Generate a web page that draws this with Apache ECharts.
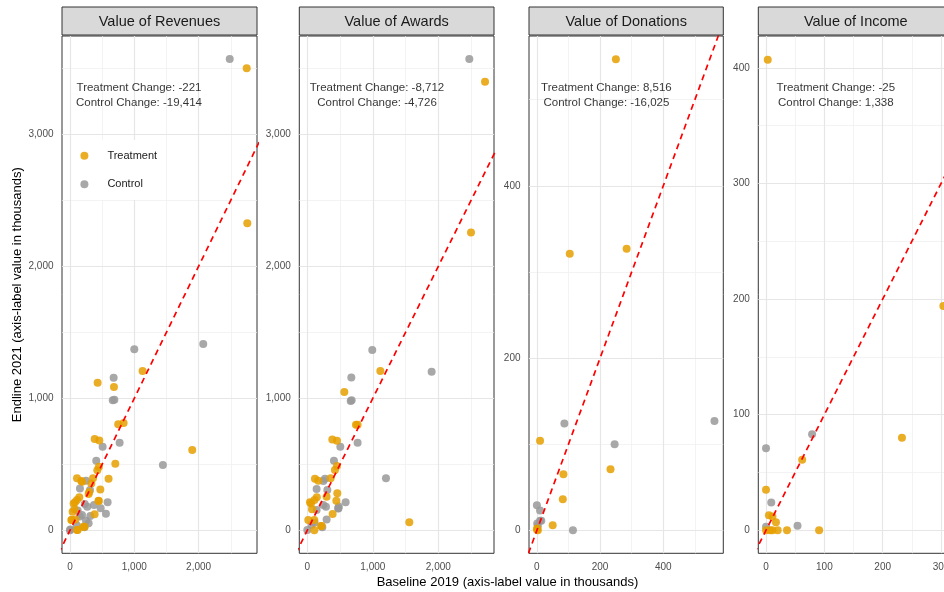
<!DOCTYPE html>
<html><head><meta charset="utf-8">
<script src="https://cdn.jsdelivr.net/npm/echarts@6/dist/echarts.min.js"></script>
<style>html,body{margin:0;padding:0;background:#fff}#c{width:944px;height:592px}</style>
</head><body><div id="c"></div>
<script>
// ---------- data (values in thousands) ----------
const panelTitles = ['Value of Revenues', 'Value of Awards', 'Value of Donations', 'Value of Income'];
const seriesNames = ['Treatment', 'Control'];

const revenuesTreatment = [
  [2748,3500],[2757,2326],[1129,1207],[430,1119],[684,1086],[834,813],[750,803],
  [384,692],[456,680],[1901,609],[705,505],[450,482],[425,456],[600,390],
  [109,394],[187,368],[358,394],[332,355],[472,310],[300,290],[290,275],
  [145,250],[109,230],[446,222],[57,204],[78,212],[72,159],[41,141],[383,121],
  [31,78],[83,83],[21,78],[228,28],[207,28],[109,2],[119,3],[176,374],[445,225]
];
const revenuesControl = [
  [2484,3570],[2072,1411],[1000,1371],[679,1156],[665,985],[690,990],[772,664],
  [508,634],[1445,495],[409,528],[155,316],[249,376],[311,305],[585,212],
  [559,126],[477,167],[269,179],[290,53],[223,23],[0,0],[104,38],[373,192],
  [155,104],[187,116],[249,73],[5,7],[316,109],[230,200],[120,150]
];
const awardsTreatment = [
  [2713,3399],[2499,2257],[1115,1207],[565,1048],[743,800],[768,800],
  [382,689],[453,679],[453,487],[422,457],[1557,61],[117,391],[168,376],
  [356,394],[458,280],[443,225],[295,255],[41,212],[387,124],[15,78],[107,78],
  [209,33],[107,0],[109,230],[145,250],[57,204],[72,159],[219,32]
];
const awardsControl = [
  [2473,3570],[1898,1202],[992,1366],[672,1157],[662,980],[677,985],[768,664],
  [504,634],[407,528],[1201,394],[585,212],[473,167],[480,180],[245,373],
  [270,391],[142,313],[306,305],[285,178],[142,154],[295,83],[229,23],[0,3],
  [66,40],[244,192],[110,60],[474,166]
];
const donationsTreatment = [[250,547],[104,321],[284,327],[10,104],[233,71],[84,65],[82,36],[50,6],[1,2],[3,0],[0,1]];
const donationsControl = [[562,127],[87,124],[246,100],[0,29],[10,23],[10,11],[1,8],[14,11],[114,0],[3,5]];
const incomeTreatment = [[3,407],[304,194],[233,80],[62,61],[0,35],[5,13],[11,12],[17,7],[91,0],[36,0],[20,0],[7,0],[0,0],[11,0]];
const incomeControl = [[79,83],[0,71],[9,24],[54,4],[0,3]];

const annotationTexts = [
  'Treatment Change: -221\nControl Change: -19,414',
  'Treatment Change: -8,712\nControl Change: -4,726',
  'Treatment Change: 8,516\nControl Change: -16,025',
  'Treatment Change: -25\nControl Change: 1,338'
];
const annotationX = [1073, 1064, 220, 119.6];
const annotationY = [3294, 3294, 505, 376];

// tick values
const xMajorTicks = [[0,1000,2000],[0,1000,2000],[0,200,400],[0,100,200,300]];
const xMinorTicks = [[500,1500,2500],[500,1500,2500],[100,300,500],[50,150,250]];
const yMajorTicks = [[0,1000,2000,3000],[0,1000,2000,3000],[0,200,400],[0,100,200,300,400]];
const yMinorTicks = [[500,1500,2500,3500],[500,1500,2500,3500],[100,300,500],[50,150,250,350]];

// axis ranges (scale limits)
const xMinVals = [-124, -122, -25, -13.2];
const xMaxVals = [2908, 2850, 590, 321];
const yMinVals = [-174, -174, -26.7, -19.9];
const yMaxVals = [3745, 3745, 574, 427.6];

const treatmentData = [revenuesTreatment, awardsTreatment, donationsTreatment, incomeTreatment];
const controlData = [revenuesControl, awardsControl, donationsControl, incomeControl];

// ---------- layout / style ----------
const FONT = 'Liberation Sans, Arial, sans-serif';
const gridLefts = [62, 299.3, 529, 758.3];
const gridWidths = [195, 194.7, 194.3, 195];
const gridTop = 36, gridHeight = 517.3;
const fmt = v => Number(v).toLocaleString('en-US');

function makeAxis(i, min, max, ticks) {
  return {
    type: 'value', gridIndex: i, min: min, max: max,
    splitLine: {show: false}, axisLine: {show: false},
    axisTick: {show: true, length: 4.5, customValues: ticks, lineStyle: {color: '#333333', width: 1}},
    axisLabel: {customValues: ticks, fontSize: 10, color: '#4d4d4d', fontFamily: FONT, margin: 8.5, formatter: fmt}
  };
}

const grids = [], xAxes = [], yAxes = [], series = [], graphics = [];
for (let i = 0; i < 4; i++) {
  grids.push({left: gridLefts[i], top: gridTop, width: gridWidths[i], height: gridHeight,
    show: true, borderColor: '#333333', borderWidth: 1, backgroundColor: 'transparent',
    containLabel: false, outerBoundsMode: 'none'});
  xAxes.push(makeAxis(i, xMinVals[i], xMaxVals[i], xMajorTicks[i]));
  yAxes.push(makeAxis(i, yMinVals[i], yMaxVals[i], yMajorTicks[i]));

  const major = {color: '#e6e6e6', width: 1.2, type: 'solid'};
  const minor = {color: '#eeeeee', width: 0.7, type: 'solid'};
  const mlData = []
    .concat(xMinorTicks[i].map(v => ({xAxis: v, lineStyle: minor})))
    .concat(yMinorTicks[i].map(v => ({yAxis: v, lineStyle: minor})))
    .concat(xMajorTicks[i].map(v => ({xAxis: v, lineStyle: major})))
    .concat(yMajorTicks[i].map(v => ({yAxis: v, lineStyle: major})));
  series.push({type: 'line', xAxisIndex: i, yAxisIndex: i, data: [], z: 1, silent: true,
    markLine: {silent: true, z: 1, symbol: ['none', 'none'], label: {show: false}, animation: false,
      emphasis: {disabled: true}, lineStyle: major, data: mlData}});

  series.push({type: 'scatter', name: 'Control', xAxisIndex: i, yAxisIndex: i, data: controlData[i],
    symbolSize: 8, itemStyle: {color: '#999999', opacity: 0.85}, z: 6, silent: true});
  series.push({type: 'scatter', name: 'Treatment', xAxisIndex: i, yAxisIndex: i, data: treatmentData[i],
    symbolSize: 8, itemStyle: {color: '#E69F00', opacity: 0.85}, z: 6, silent: true});

  const lo = Math.min(xMinVals[i], yMinVals[i]);
  const hi = Math.max(xMaxVals[i], yMaxVals[i]);
  series.push({type: 'line', xAxisIndex: i, yAxisIndex: i, data: [[lo, lo], [hi, hi]],
    symbol: 'none', clip: true, silent: true, z: 7,
    lineStyle: {color: '#ff0000', width: 1.7, type: [6, 4.5]}});

  series.push({type: 'scatter', xAxisIndex: i, yAxisIndex: i, data: [[annotationX[i], annotationY[i]]],
    symbolSize: 0, silent: true, z: 8,
    label: {show: true, position: 'inside', formatter: annotationTexts[i], fontSize: 11.5,
      lineHeight: 15, color: '#000', fontFamily: FONT, align: 'center', verticalAlign: 'middle'}});

  // strip
  graphics.push({type: 'rect', shape: {x: gridLefts[i], y: 7, width: gridWidths[i], height: 28},
    style: {fill: '#d9d9d9', stroke: '#333333', lineWidth: 1}, z: 10});
  graphics.push({type: 'text', x: gridLefts[i] + gridWidths[i] / 2, y: 21.5,
    style: {text: panelTitles[i], fill: '#1a1a1a', font: '14.5px ' + FONT, textAlign: 'center', textVerticalAlign: 'middle'}, z: 11});
}

graphics.push({type: 'text', x: 507.5, y: 582.5,
  style: {text: 'Baseline 2019 (axis-label value in thousands)', fill: '#000', font: '13px ' + FONT,
    textAlign: 'center', textVerticalAlign: 'middle'}});
graphics.push({type: 'text', x: 17, y: 294.7, rotation: Math.PI / 2,
  style: {text: 'Endline 2021 (axis-label value in thousands)', fill: '#000', font: '13px ' + FONT,
    textAlign: 'center', textVerticalAlign: 'middle'}});

const chart = echarts.init(document.getElementById('c'), null, {renderer: 'canvas'});
chart.setOption({
  animation: false,
  backgroundColor: '#ffffff',
  grid: grids, xAxis: xAxes, yAxis: yAxes, series: series,
  legend: {data: seriesNames, orient: 'vertical', left: 80.4, top: 140, icon: 'circle', z: 4,
    itemWidth: 36, itemHeight: 8, itemGap: 14.6, selectedMode: false,
    padding: [8.7, 7, 8.7, 0], backgroundColor: '#ffffff',
    textStyle: {fontSize: 11, color: '#1a1a1a', fontFamily: FONT, lineHeight: 14}},
  graphic: graphics
});
</script></body></html>
